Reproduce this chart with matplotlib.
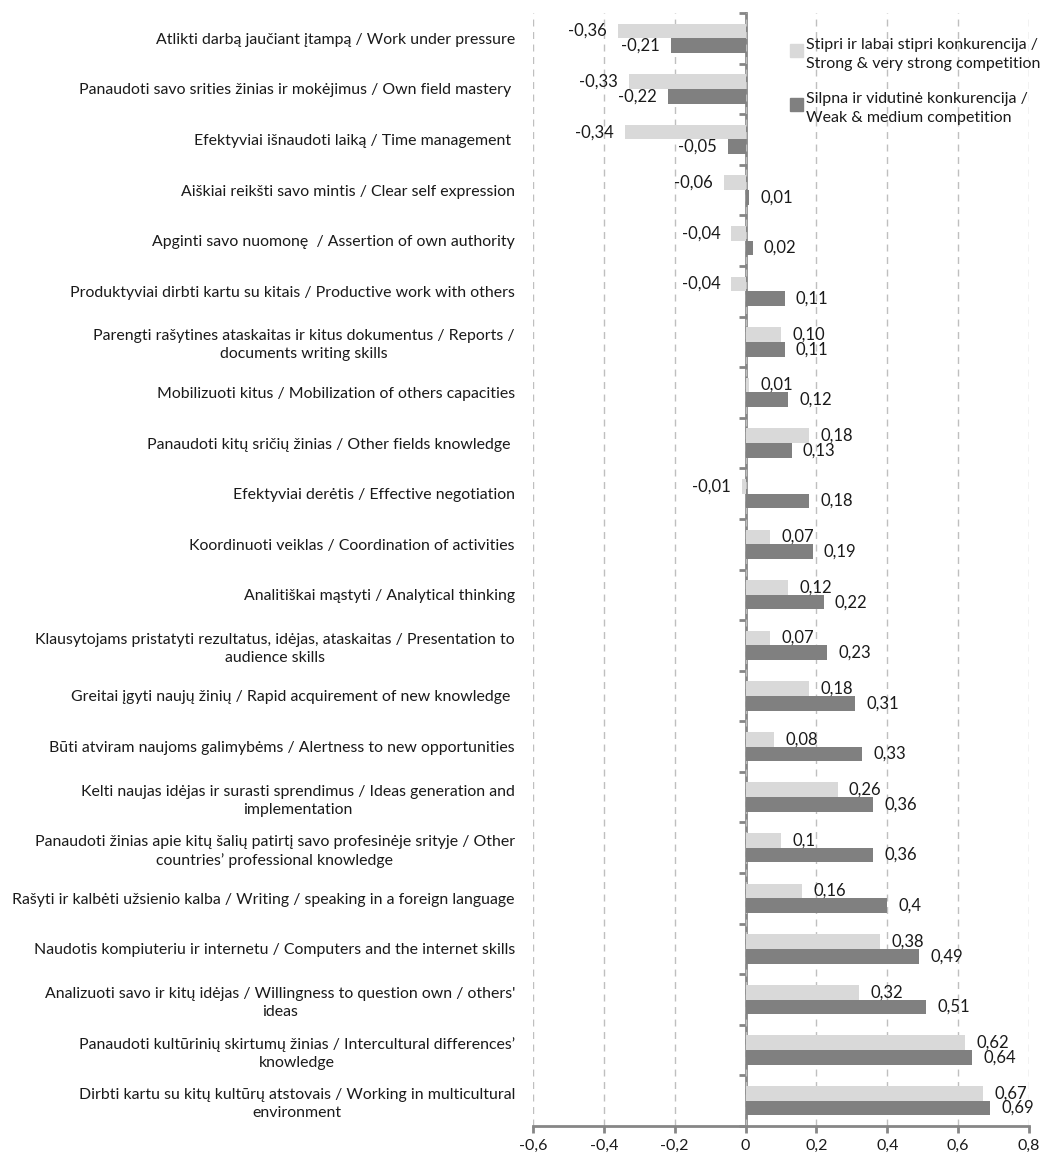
import numpy as np
import matplotlib
matplotlib.use("Agg")
import matplotlib.pyplot as plt
from matplotlib.patches import Rectangle

plt.rcParams['font.family'] = ['Lato', 'DejaVu Sans']

# skills, top to bottom
skills = [
    "Atlikti darbą jaučiant įtampą / Work under pressure",
    "Panaudoti savo srities žinias ir mokėjimus / Own field mastery ",
    "Efektyviai išnaudoti laiką / Time management ",
    "Aiškiai reikšti savo mintis / Clear self expression",
    "Apginti savo nuomonę  / Assertion of own authority",
    "Produktyviai dirbti kartu su kitais / Productive work with others",
    "Parengti rašytines ataskaitas ir kitus dokumentus / Reports /\ndocuments writing skills",
    "Mobilizuoti kitus / Mobilization of others capacities",
    "Panaudoti kitų sričių žinias / Other fields knowledge ",
    "Efektyviai derėtis / Effective negotiation",
    "Koordinuoti veiklas / Coordination of activities",
    "Analitiškai mąstyti / Analytical thinking",
    "Klausytojams pristatyti rezultatus, idėjas, ataskaitas / Presentation to\naudience skills",
    "Greitai įgyti naujų žinių / Rapid acquirement of new knowledge ",
    "Būti atviram naujoms galimybėms / Alertness to new opportunities",
    "Kelti naujas idėjas ir surasti sprendimus / Ideas generation and\nimplementation",
    "Panaudoti žinias apie kitų šalių patirtį savo profesinėje srityje / Other\ncountries’ professional knowledge",
    "Rašyti ir kalbėti užsienio kalba / Writing / speaking in a foreign language",
    "Naudotis kompiuteriu ir internetu / Computers and the internet skills",
    "Analizuoti savo ir kitų idėjas / Willingness to question own / others'\nideas",
    "Panaudoti kultūrinių skirtumų žinias / Intercultural differences’\nknowledge",
    "Dirbti kartu su kitų kultūrų atstovais / Working in multicultural\nenvironment",
]

strong = [-0.36, -0.33, -0.34, -0.06, -0.04, -0.04, 0.10, 0.01, 0.18, -0.01, 0.07,
          0.12, 0.07, 0.18, 0.08, 0.26, 0.10, 0.16, 0.38, 0.32, 0.62, 0.67]
weak = [-0.21, -0.22, -0.05, 0.01, 0.02, 0.11, 0.11, 0.12, 0.13, 0.18, 0.19,
        0.22, 0.23, 0.31, 0.33, 0.36, 0.36, 0.40, 0.49, 0.51, 0.64, 0.69]

strong_labels = ["-0,36", "-0,33", "-0,34", "-0,06", "-0,04", "-0,04", "0,10", "0,01", "0,18",
                 "-0,01", "0,07", "0,12", "0,07", "0,18", "0,08", "0,26", "0,1", "0,16",
                 "0,38", "0,32", "0,62", "0,67"]
weak_labels = ["-0,21", "-0,22", "-0,05", "0,01", "0,02", "0,11", "0,11", "0,12", "0,13",
               "0,18", "0,19", "0,22", "0,23", "0,31", "0,33", "0,36", "0,36", "0,4",
               "0,49", "0,51", "0,64", "0,69"]

xticks = [-0.6, -0.4, -0.2, 0, 0.2, 0.4, 0.6, 0.8]
xtick_labels = ["-0,6", "-0,4", "-0,2", "0", "0,2", "0,4", "0,6", "0,8"]

legend_texts = ["Stipri ir labai stipri konkurencija /\nStrong & very strong competition",
                "Silpna ir vidutinė konkurencija /\nWeak & medium competition"]

light = '#D9D9D9'
dark = '#808080'
axis_gray = '#868686'
text_col = '#1a1a1a'
fs = 11.4

fig = plt.figure(figsize=(10.64, 11.57), dpi=100)
ax = fig.add_axes([533 / 1064, 1 - 1126 / 1157, 496 / 1064, 1113 / 1157])

n = len(skills)
y = np.arange(n)
h = 0.29

b1 = ax.barh(y - h / 2, strong, height=h, color=light, zorder=2)
b2 = ax.barh(y + h / 2, weak, height=h, color=dark, zorder=2)
ax.bar_label(b1, labels=strong_labels, padding=8, fontsize=12, color=text_col)
ax.bar_label(b2, labels=weak_labels, padding=8, fontsize=12, color=text_col)

ax.set_xlim(-0.6, 0.8)
ax.set_ylim(n - 0.5, -0.5)

ax.set_xticks(xticks)
ax.set_xticklabels(xtick_labels, fontsize=11.5, color=text_col)
ax.tick_params(axis='x', direction='out', length=5, width=2, color=axis_gray, pad=4)
ax.xaxis.grid(True, linestyle=(0, (5, 4)), color='#BFBFBF', linewidth=1, zorder=0)
ax.set_axisbelow(True)

ax.set_yticks(y)
ax.set_yticklabels(skills, fontsize=fs, color=text_col, ha='right', multialignment='center')
for lab in ax.get_yticklabels():
    lab.set_linespacing(1.35)
ax.tick_params(axis='y', length=0, pad=13)

for s in ['top', 'right', 'left']:
    ax.spines[s].set_visible(False)
ax.spines['bottom'].set_color(axis_gray)
ax.spines['bottom'].set_linewidth(2)

# vertical axis line at zero with category separator ticks
sec = ax.secondary_yaxis(0.6 / 1.4)
sec.set_yticks(np.arange(n + 1) - 0.5)
sec.set_yticklabels([])
sec.tick_params(axis='y', direction='out', length=5, width=2, color=axis_gray)
sec.spines['left'].set_color(axis_gray)
sec.spines['left'].set_linewidth(2)

# legend, square next to first line of each entry
for i, (txt, col) in enumerate(zip(legend_texts, [light, dark])):
    ty = 1 - (31 + i * 54) / 1113
    ax.add_patch(Rectangle((0.518, ty - 0.0115), 0.026, 0.0115, transform=ax.transAxes,
                           color=col, clip_on=False))
    ax.text(0.55, ty + 0.005, txt, transform=ax.transAxes, fontsize=11.5,
            color=text_col, va='top', ha='left', linespacing=1.45)

fig.savefig('out.png', dpi=100)
